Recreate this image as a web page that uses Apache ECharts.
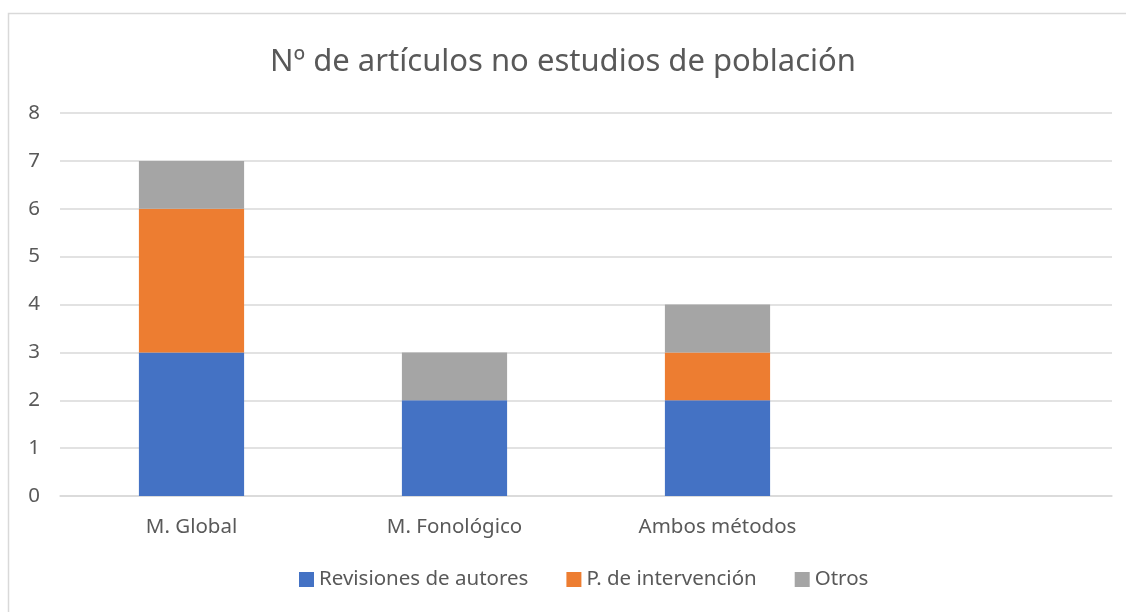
<!DOCTYPE html>
<html><head><meta charset="utf-8">
<script src="https://cdn.jsdelivr.net/npm/echarts@6/dist/echarts.min.js"></script>
<style>html,body{margin:0;padding:0;background:#fff}#c{width:1126px;height:612px}</style>
</head><body><div id="c"></div>
<script>
const title = 'Nº de artículos no estudios de población';
const categories = ['M. Global', 'M. Fonológico', 'Ambos métodos', ''];
const seriesNames = ['Revisiones de autores', 'P. de intervención', 'Otros'];
const revisiones = [3, 2, 2, null];
const intervencion = [3, null, 1, null];
const otros = [1, 1, 1, null];
const colors = ['#4472C4', '#ED7D31', '#A5A5A5'];
const font = '"Noto Sans", "Open Sans", sans-serif';
const chart = echarts.init(document.getElementById('c'));
const data = [revisiones, intervencion, otros];
chart.setOption({
  animation: false,
  title: { text: title, left: 'center', top: 42, textStyle: { fontFamily: font, fontSize: 31, fontWeight: 'normal', color: '#595959' } },
  graphic: [{ type: 'rect', shape: { x: 8.5, y: 13.5, width: 1200, height: 700 }, style: { fill: 'none', stroke: '#d9d9d9', lineWidth: 1.5 }, silent: true }],
  grid: { left: 60, right: 14, top: 113, bottom: 116 },
  legend: { bottom: 17, left: 294, itemWidth: 15, itemHeight: 15, itemGap: 38, icon: 'rect', textStyle: { fontFamily: font, fontSize: 20.5, color: '#595959' }, data: seriesNames },
  xAxis: { type: 'category', data: categories, axisLine: { lineStyle: { color: '#d9d9d9', width: 1.5 } }, axisTick: { show: false }, axisLabel: { fontFamily: font, fontSize: 20.5, color: '#595959', margin: 21 } },
  yAxis: { type: 'value', min: 0, max: 8, interval: 1, axisLine: { show: false }, axisTick: { show: false }, splitLine: { lineStyle: { color: '#d9d9d9', width: 1.5 } }, axisLabel: { fontFamily: font, fontSize: 20.5, color: '#595959', margin: 20 } },
  series: seriesNames.map((n, i) => ({ name: n, type: 'bar', stack: 'a', data: data[i], barWidth: '40%', itemStyle: { color: colors[i] } }))
});
</script></body></html>
